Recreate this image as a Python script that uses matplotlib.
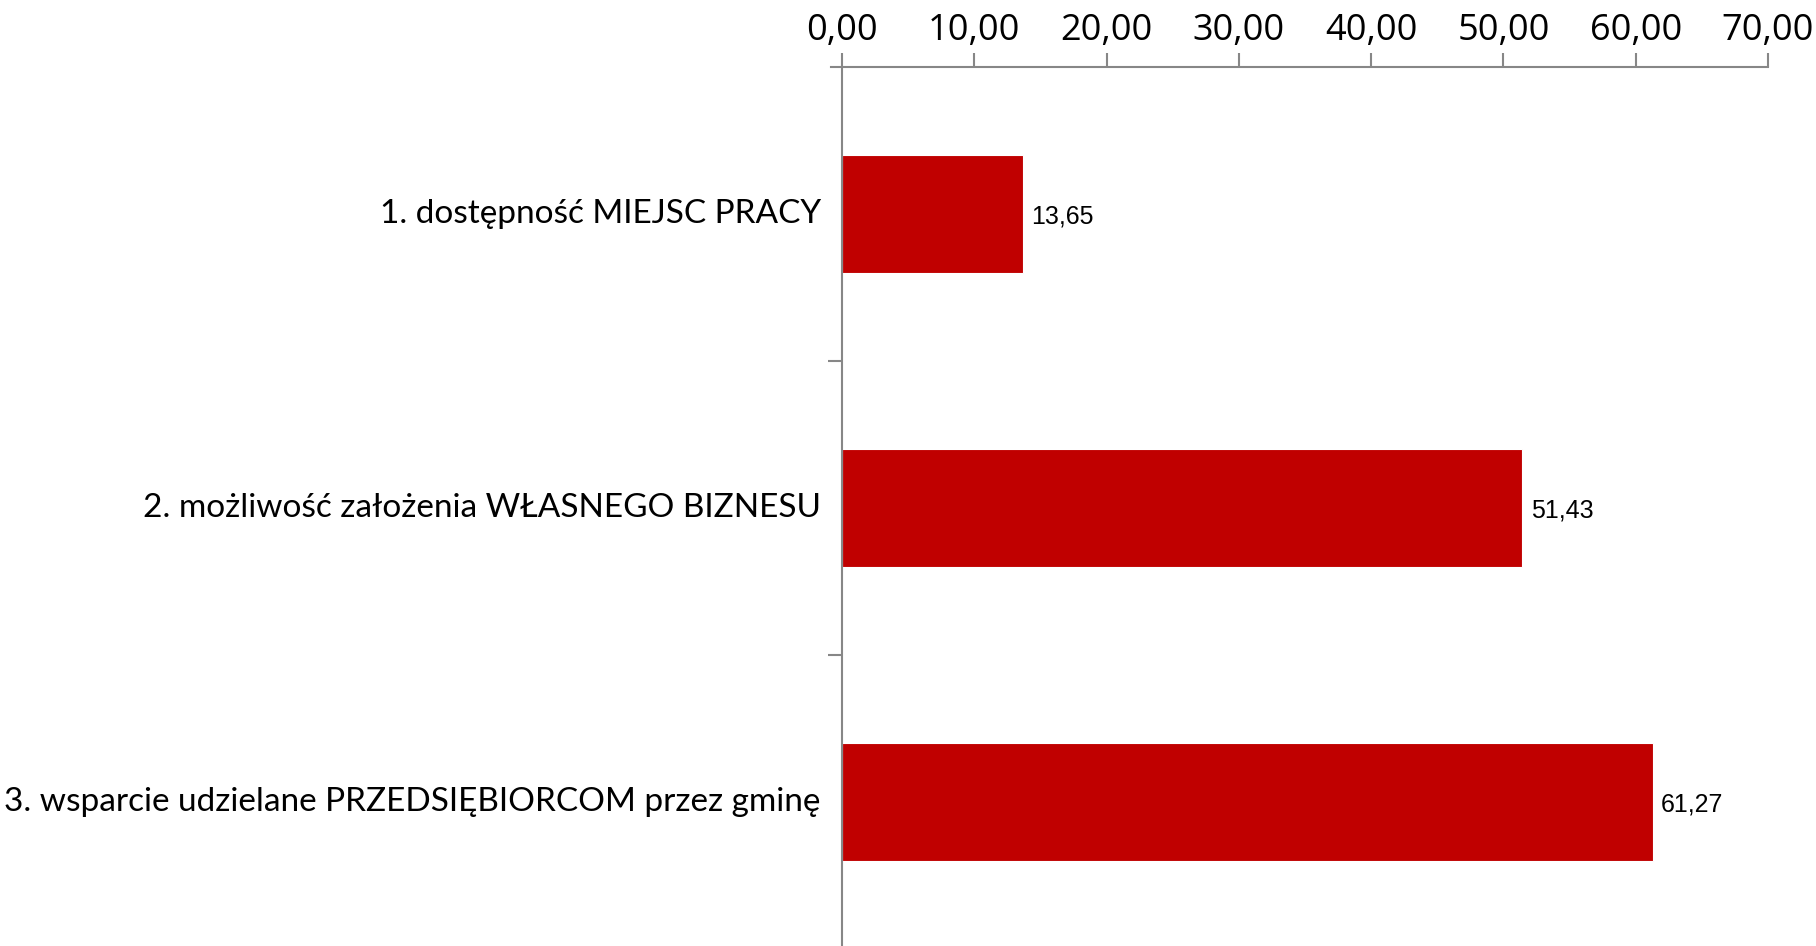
import matplotlib
matplotlib.use("Agg")
import matplotlib.pyplot as plt
from matplotlib.ticker import FixedLocator, FuncFormatter

categories = [
    "1. dostępność MIEJSC PRACY",
    "2. możliwość założenia WŁASNEGO BIZNESU",
    "3. wsparcie udzielane PRZEDSIĘBIORCOM przez gminę",
]
values = [13.65, 51.43, 61.27]
xticks = [0, 10, 20, 30, 40, 50, 60, 70]

W, H = 1816, 946
fig = plt.figure(figsize=(W / 100, H / 100), dpi=100)
left, right, top, bottom = 842, 1768, 67, 949
ax = fig.add_axes([left / W, 1 - bottom / H, (right - left) / W, (bottom - top) / H])

ypos = list(range(len(categories)))
ax.barh(ypos, values, height=0.4, color="#C00000", edgecolor="white", linewidth=0.8)
ax.set_xlim(0, 70)
ax.set_ylim(len(categories) - 0.5, -0.5)

gray = "#878787"
ax.xaxis.tick_top()
ax.xaxis.set_major_locator(FixedLocator(xticks))
ax.xaxis.set_major_formatter(FuncFormatter(lambda v, p: f"{v:.2f}".replace(".", ",")))
ax.tick_params(axis="x", which="major", direction="out", length=10, width=1.5, color=gray,
               pad=3, labelsize=26)
for lab in ax.get_xticklabels():
    lab.set_fontfamily("Open Sans")

ax.set_yticks([i + 0.5 for i in ypos[:-1]])
ax.set_yticklabels([])
ax.tick_params(axis="y", direction="out", length=10, width=1.5, color=gray)

for s in ["right", "bottom"]:
    ax.spines[s].set_visible(False)
ax.spines["left"].set_color(gray)
ax.spines["left"].set_linewidth(1.5)
ax.spines["top"].set_color(gray)
ax.spines["top"].set_linewidth(1.5)
ax.spines["top"].set_bounds(-0.8, 70)
ax.set_xlim(0, 70)
ax.spines["top"].set_clip_on(False)

for i, (c, v) in enumerate(zip(categories, values)):
    ax.text(-1.6, i, c, ha="right", va="center", fontsize=24, family="Lato", color="black",
            clip_on=False)
    ax.annotate(f"{v:.2f}".replace(".", ","), (v, i), xytext=(6, -2), textcoords="offset points",
                ha="left", va="center", fontsize=18, family="Liberation Sans", color="black")

fig.savefig("out.png", dpi=100, facecolor="white")
